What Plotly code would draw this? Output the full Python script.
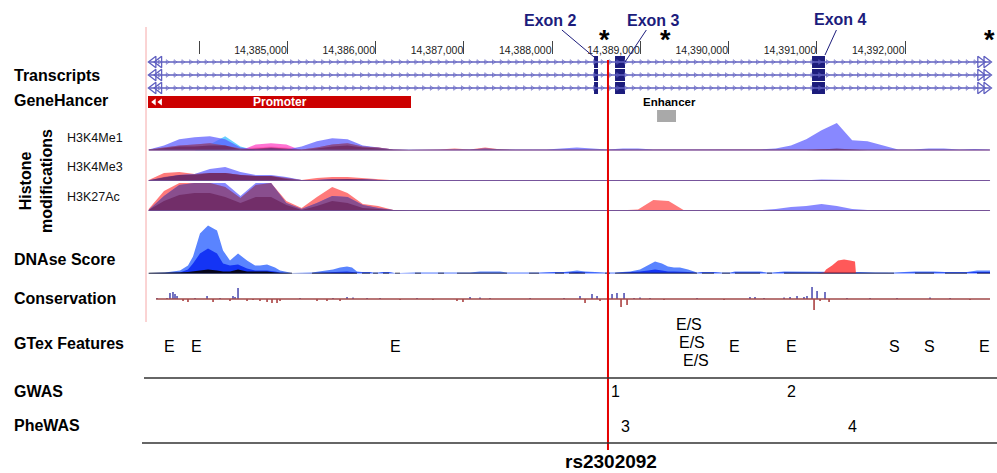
import numpy as np
import plotly.graph_objects as go

W, H = 997, 473
FONT = "Liberation Sans, Arial, sans-serif"

# ---------------- data ----------------
X_RANGE = [14381745, 14393042]
TICK_VALS = [14384000, 14385000, 14386000, 14387000, 14388000,
             14389000, 14390000, 14391000, 14392000]
TICK_TEXT = ["", "14,385,000", "14,386,000", "14,387,000", "14,388,000",
             "14,389,000", "14,390,000", "14,391,000", "14,392,000"]

TX_START, TX_END = 14383433, 14392963
TX_ROWS = [0, 1, 2]
EXON_NAMES = ["Exon 2", "Exon 3", "Exon 4"]
EXON_START = [14388476, 14388714, 14390946]
EXON_END = [14388521, 14388827, 14391093]

GH_NAMES = ["Promoter", "Enhancer"]
GH_START = [14383422, 14389190]
GH_END = [14386402, 14389405]
GH_LANE = [0, 1]
GH_COLOR = ["#cc0000", "#a9a9a9"]

SNP_POS = 14388634
SNP_NAME = "rs2302092"
STAR_POS = [14388600, 14389290, 14392960]

# histone signals, sampled on an even grid across the region
HIST_POS = np.linspace(14383430, 14392960, 56)
ME1_BLUE = [1, 5, 11, 13, 14, 11, 3, 1, 2, 1,
            4, 9, 12, 11, 5, 3, 1, 0.8, 0.8, 1,
            1, 1, 2, 1, 1, 1, 1, 2, 3, 2,
            1, 2, 2, 1, 1, 1, 0.8, 1, 0.8, 0.8,
            1, 2, 5, 11, 20, 27, 10, 9, 5, 1,
            1, 2, 2, 1, 1.5, 1]
ME1_RED = [1, 3, 5, 6, 7, 5, 2, 3, 4, 3,
           1, 3, 6, 7, 4, 3, 1, 0.5, 0.5, 1,
           2, 1, 3, 1, 0.7, 0.7, 0.7, 0.7, 0.7, 0.7,
           0.7, 0.7, 0.7, 0.7, 0.7, 0.7, 0.7, 0.7, 0.7, 0.7,
           0.7, 0.7, 0.7, 1, 1.5, 1, 0.7, 0.7, 0.7, 0.7,
           0.7, 0.7, 0.7, 0.7, 0.7, 0.7]
ME1_CYAN = [0, 0, 0, 0, 6, 14, 4, 0, 0, 0] + [0] * 46
ME1_MAGENTA = [0, 0, 0, 0, 0, 0, 0, 6, 7, 6] + [0] * 46
ME1_DARK = [0.5, 2, 4, 4, 5, 5, 1, 2, 3, 2,
            0.5, 2, 4, 5, 3, 2, 0.5, 0, 0, 0] + [0] * 24 + [1, 2, 1] + [0] * 9

ME3_BLUE = [0.7, 3, 6, 7, 12, 14, 9, 6, 6, 4,
            1, 1, 2, 2, 2, 1] + [0.7] * 28 + [1.5, 1] + [0.7] * 10
ME3_RED = [1, 8, 9, 7, 8, 8, 6, 5, 5, 3,
           1, 3, 4, 4, 3, 2, 0.7] + [0.5] * 16 + [1, 1] + [0.5] * 21
ME3_DARK = [0.5, 4, 6, 6, 8, 8, 6, 5, 5, 2,
            0.5, 1, 2, 2, 1.5, 1] + [0] * 40

AC_RED = [2, 20, 28, 28, 28, 24, 13, 26, 28, 10,
          3, 14, 24, 18, 7, 5, 1, 0.7, 0.7, 0.7,
          1, 1, 0.7, 0.7, 0.7, 0.7, 0.7, 0.7, 0.7, 0.7,
          0.7, 0.7, 1.5, 11, 10, 0.7] + [0.7] * 20
AC_BLUE = [1, 15, 26, 28, 28, 28, 15, 28, 28, 8,
           2, 8, 15, 14, 6, 3, 1] + [0.8] * 24 + [2, 4, 5, 7, 5, 2, 1] + [0.8] * 8
AC_DARK = [1, 10, 16, 18, 18, 14, 8, 14, 14, 6,
           1, 5, 10, 8, 3, 2, 0.5] + [0] * 39

# DNAse score (None = no data)
DNASE_POS = [14383430, 14383615, 14383785, 14383875, 14383932, 14384011, 14384102,
             14384204, 14384272, 14384351, 14384442, 14384544, 14384635, 14384691,
             14384771, 14384861, 14384918, 14385054, 14385150,
             14385280, 14385371, 14385518, 14385598, 14385677, 14385734, 14385790, 14385810,
             14385847, 14385938, 14385955, 14385972, 14386028, 14386055,
             14386085, 14386153, 14386190, 14386221, 14386278, 14386360,
             14386447, 14386515, 14386600, 14386708, 14386776, 14386850,
             14386923, 14387071, 14387184, 14387297, 14387411, 14387490, 14387600,
             14387739, 14387853, 14387950, 14388034, 14388136, 14388165,
             14388192, 14388283, 14388374, 14388480, 14388600, 14388657, 14388685,
             14388714, 14388884, 14388997, 14389088, 14389167, 14389246, 14389314,
             14389382, 14389450, 14389541, 14389609, 14389643, 14389670,
             14389699, 14389835, 14389880, 14389926, 14390017, 14390045,
             14390073, 14390357, 14390400, 14390436, 14390493, 14390560,
             14390629, 14390810, 14390980, 14391150, 14391320, 14391490, 14391660,
             14391875, 14392000, 14392113, 14392328, 14392390,
             14392453, 14392702, 14392760, 14392816, 14392963]
DNASE_LIGHT = [0.5, 1, 3, 8, 17, 40, 48, 43, 23, 13, 20, 13, 8, 8, 9, 6, 3, 0.5, None,
               1, 2, 4, 6, 7, 6, 2, None,
               1.5, 1.5, None, 1, 1, None,
               1.5, 1.5, None, 0.5, 0.5, None,
               1, 1, None, 1, 1, None,
               1, 1, 2, 2, 2, 1, None,
               1, 1, None, 1.5, 1.5, None,
               2, 3, 2, None, 1, 1, None,
               1, 2, 4, 8, 12, 10, 7, 6, 6, 4, 2, 1, None,
               1.5, 1.5, None, 1, 1, None,
               2, 2, None, 1, 1, None,
               2, 2, 2, 2, 2, 1.5, 1, 1, None, 2, 2, None,
               1.5, 1.5, None, 3, 3]
DNASE_MID = [0, 0.5, 1, 4, 10, 20, 25, 20, 10, 8, 9, 5, 3, 3, 3, 2, 1, 0, None,
             0.5, 1, 1.5, 2, 2, 1.5, 1, None,
             1, 1, None, 0.5, 0.5, None,
             1, 1, None, 0.3, 0.3, None,
             0.5, 0.5, None, 0.5, 0.5, None,
             0.5, 0.5, 1, 1, 1, 0.5, None,
             0.5, 0.5, None, 1, 1, None,
             1, 1.5, 1, None, 0.5, 0.5, None,
             0.5, 1, 2, 3, 4, 3, 2, 2, 2, 1.5, 1, 0.5, None,
             1, 1, None, 0.5, 0.5, None,
             1, 1, None, 0.5, 0.5, None,
             1, 1, 1, 1, 1, 1, 0.5, 0.5, None, 1, 1, None,
             1, 1, None, 1.5, 1.5]
DNASE_BLACK = [0.5, 0.5, 1, 1.5, 2, 3, 4, 3, 2, 2, 4, 2, 2, 2, 2, 1, 0.5, 0.3, None,
               0.3, 0.5, 0.5, 0.5, 0.5, 0.5, 0.3, None]
DNASE_RED_POS = [14391000, 14391082, 14391105, 14391173, 14391241, 14391309,
                 14391377, 14391433, 14391444]
DNASE_RED = [0, 1, 4, 8, 13, 14, 13, 12, 0]

# conservation (phyloP-like)
CONS_POS = [14383524, 14383637, 14383671, 14383705, 14383728, 14383751, 14383819,
            14383875, 14383955, 14384091, 14384159, 14384238, 14384351, 14384385,
            14384408, 14384442, 14384544, 14384612, 14384691, 14384771, 14384827,
            14384884, 14384918, 14385144, 14385337, 14385450, 14385518, 14385598,
            14385677, 14385745, 14385904, 14386051, 14386278, 14386470, 14386651,
            14386923, 14386991, 14387071, 14387184, 14387297, 14387751, 14388136,
            14388317, 14388374, 14388453, 14388510, 14388544, 14388680, 14388736,
            14388782, 14388816, 14388850, 14388929, 14388997, 14389110, 14389269,
            14389643, 14389949, 14390243, 14390300, 14390402, 14390629, 14390697,
            14390776, 14390855, 14390889, 14390946, 14390969, 14391003, 14391037,
            14391093, 14391139, 14391342, 14391603, 14391909, 14392283, 14392510,
            14392736]
CONS_VAL = [1, 1, 6, 7, 5, 3, -2,
            -3, 1, 3, -3, 1, -2, 3,
            2, 11, -2, -1, -2, -3, -4,
            -4, -2, 1, -2, -2, 1, -2,
            2, 1.5, 1, 1, -1, 1, -1,
            -2, -3, 2, 1.5, 1, 1, 1,
            3, -4, 5, 3, -2, 5, 6,
            -8, 6, -6, 1, 1.5, 1, -1,
            1, -1, 2, 2, 1, 1.5, 2,
            3, 2, 3, 12, -11, 8, -2,
            7, -3, 1, 1, 1, 1.5, 1,
            -1]

GTEX_LABELS = ["E", "E", "E", "E/S", "E/S", "E/S", "E", "E", "S", "S", "E"]
GTEX_POS = [14383671, 14383966, 14386232, 14389552, 14389586, 14389632,
            14390062, 14390719, 14391875, 14392272, 14392895]
GTEX_LANE = [1, 1, 1, 0, 2, 3, 1, 1, 1, 1, 1]
GWAS_LABELS = ["1", "2"]
GWAS_POS = [14388714, 14390708]
PHEWAS_LABELS = ["3", "4"]
PHEWAS_POS = [14388838, 14391410]

TRACK_LABELS = ["Transcripts", "GeneHancer", "DNAse Score", "Conservation",
                "GTex Features", "GWAS", "PheWAS"]
HIST_LABELS = ["H3K4Me1", "H3K4Me3", "H3K27Ac"]

# ---------------- layout helpers (page pixels -> paper) ----------------
def py(px):
    return 1 - px / H

def pxx(px):
    return px / W

RED_C = "rgba(255,70,70,0.72)"
BLUE_C = "rgba(90,90,255,0.72)"
MIX_C = "rgba(138,74,128,0.85)"
DARK_C = "rgba(95,20,75,0.55)"
CYAN_C = "rgba(80,200,255,0.85)"
MAG_C = "rgba(255,80,200,0.8)"
NAVY = "#1c1c7c"
TX_C = "#6060c0"

fig = go.Figure()

# ---- transcripts ----
chev = np.arange(TX_START + 120, TX_END - 150, 88)
for r in TX_ROWS:
    fig.add_trace(go.Scatter(x=[TX_START, TX_END], y=[r, r], mode="lines",
                             line=dict(color=TX_C, width=1.3), yaxis="y",
                             hoverinfo="skip", showlegend=False))
    fig.add_trace(go.Scatter(x=chev, y=[r] * len(chev), mode="markers",
                             marker=dict(symbol="triangle-right-open", size=4,
                                         color="rgba(96,96,192,0.8)",
                                         line=dict(width=0.8)),
                             yaxis="y", hoverinfo="skip", showlegend=False))
    fig.add_trace(go.Scatter(x=[TX_START + 50, TX_START + 115], y=[r, r], mode="markers",
                             marker=dict(symbol="triangle-left-open", size=10, color=TX_C,
                                         line=dict(width=1.3)),
                             yaxis="y", hoverinfo="skip", showlegend=False))
    fig.add_trace(go.Scatter(x=[TX_END - 110, TX_END - 40], y=[r, r], mode="markers",
                             marker=dict(symbol="triangle-right-open", size=10, color=TX_C,
                                         line=dict(width=1.3)),
                             yaxis="y", hoverinfo="skip", showlegend=False))
    fig.add_trace(go.Bar(y=[r] * len(EXON_START),
                         x=[e - s for s, e in zip(EXON_START, EXON_END)],
                         base=EXON_START, orientation="h", width=0.93,
                         marker=dict(color=NAVY, line=dict(width=0)),
                         yaxis="y", hoverinfo="skip", showlegend=False))

# ---- GeneHancer ----
fig.add_trace(go.Bar(y=GH_LANE, x=[e - s for s, e in zip(GH_START, GH_END)],
                     base=GH_START, orientation="h", width=0.86,
                     marker=dict(color=GH_COLOR, line=dict(width=0)),
                     yaxis="y2", hoverinfo="skip", showlegend=False))
fig.add_trace(go.Scatter(x=[GH_START[0] + 70, GH_START[0] + 140], y=[0, 0], mode="markers",
                         marker=dict(symbol="triangle-left", size=6, color="white"),
                         yaxis="y2", hoverinfo="skip", showlegend=False))

# ---- histone tracks ----
def area(x, y, color, yaxis):
    fig.add_trace(go.Scatter(x=x, y=y, mode="lines", fill="tozeroy",
                             fillcolor=color, line=dict(width=0, color=color),
                             yaxis=yaxis, hoverinfo="skip", showlegend=False))

tracks = [("y3", ME1_RED, ME1_BLUE, ME1_DARK, [(ME1_CYAN, CYAN_C), (ME1_MAGENTA, MAG_C)]),
          ("y4", ME3_RED, ME3_BLUE, ME3_DARK, []),
          ("y5", AC_RED, AC_BLUE, AC_DARK, [])]
for ya, red, blue, dark, extra in tracks:
    area(HIST_POS, red, RED_C, ya)
    for vals, col in extra:
        area(HIST_POS, vals, col, ya)
    area(HIST_POS, blue, BLUE_C, ya)
    area(HIST_POS, np.minimum(red, blue), MIX_C, ya)
    area(HIST_POS, dark, DARK_C, ya)
    fig.add_trace(go.Scatter(x=[TX_START, TX_END], y=[0.3, 0.3], mode="lines",
                             line=dict(color="rgba(110,80,150,0.8)", width=1.4),
                             yaxis=ya, hoverinfo="skip", showlegend=False))

# ---- DNAse ----
area(DNASE_POS, DNASE_LIGHT, "#5a84ff", "y6")
area(DNASE_POS, DNASE_MID, "#1434f5", "y6")
area(DNASE_POS[:len(DNASE_BLACK)], DNASE_BLACK, "#05051a", "y6")
area(DNASE_RED_POS, DNASE_RED, "rgba(255,60,60,0.85)", "y6")
fig.add_trace(go.Scatter(x=DNASE_POS,
                         y=[0 if v is not None else None for v in DNASE_LIGHT],
                         mode="lines", line=dict(color="#101020", width=1.6),
                         yaxis="y6", hoverinfo="skip", showlegend=False))

# ---- conservation ----
fig.add_trace(go.Scatter(x=[TX_START + 80, TX_END], y=[0, 0], mode="lines",
                         line=dict(color="#a04848", width=1.3), yaxis="y7",
                         hoverinfo="skip", showlegend=False))
fig.add_trace(go.Bar(x=CONS_POS, y=CONS_VAL, width=16,
                     marker=dict(color=["#3a3aa8" if v > 0 else "#a02828" for v in CONS_VAL],
                                 line=dict(width=0)),
                     yaxis="y7", hoverinfo="skip", showlegend=False))

# ---------------- annotations ----------------
ann = []
def text(t, x, y, size, color="black", xref="paper", xanchor="center", **kw):
    ann.append(dict(text=t, x=x, y=y, xref=xref, yref="paper", xanchor=xanchor,
                    yanchor="middle", showarrow=False,
                    font=dict(size=size, color=color, family=FONT), **kw))

label_y = [75, 101, 259, 298, 343, 391, 425]
for t, yy in zip(TRACK_LABELS, label_y):
    text(f"<b>{t}</b>", pxx(12), py(yy), 16, xanchor="left")
text("<b>Histone<br>modifications</b>", pxx(36), py(181), 16, textangle=-90)
for t, yy in zip(HIST_LABELS, [138, 167, 197]):
    text(t, pxx(65), py(yy), 12.5, color="#111", xanchor="left")

# exon labels with leader lines
exon_targets = [(EXON_START[0], 57, -44, -37), (EXON_END[1], 62, 28, -42),
                (EXON_END[2], 55, 16, -35)]
for name, (xx, yy, ax, ay) in zip(EXON_NAMES, exon_targets):
    ann.append(dict(text=f"<b>{name}</b>", x=xx, y=py(yy), xref="x", yref="paper",
                    showarrow=True, arrowhead=0, arrowwidth=1, arrowcolor=NAVY,
                    ax=ax, ay=ay, standoff=0, startstandoff=0,
                    font=dict(size=16, color=NAVY, family=FONT)))
for sx in STAR_POS:
    text("<b>*</b>", sx, py(40), 27, xref="x")

# GeneHancer labels
text(f"<b>{GH_NAMES[0]}</b>", (GH_START[0] + GH_END[0]) / 2, py(102), 12,
     color="white", xref="x")
text(f"<b>{GH_NAMES[1]}</b>", (GH_START[1] + GH_END[1]) / 2 + 30, py(102), 11.5,
     xref="x")

lane_px = {0: 324, 1: 346, 2: 342, 3: 360}
for t, xx, ln in zip(GTEX_LABELS, GTEX_POS, GTEX_LANE):
    text(t, xx, py(lane_px[ln]), 16, xref="x")
for t, xx in zip(GWAS_LABELS, GWAS_POS):
    text(t, xx, py(391), 16, xref="x")
for t, xx in zip(PHEWAS_LABELS, PHEWAS_POS):
    text(t, xx, py(426), 16, xref="x")
text(f"<b>{SNP_NAME}</b>", SNP_POS + 30, py(461), 19, xref="x")

# ---------------- shapes ----------------
shapes = [
    dict(type="line", xref="paper", yref="paper", x0=pxx(146), x1=pxx(146),
         y0=py(27), y1=py(322), line=dict(color="#f6a8a8", width=1)),
    dict(type="line", xref="x", yref="paper", x0=SNP_POS, x1=SNP_POS,
         y0=py(60), y1=py(450), line=dict(color="#e60000", width=2)),
    dict(type="line", xref="paper", yref="paper", x0=pxx(144), x1=1,
         y0=py(378), y1=py(378), line=dict(color="#333", width=1.3)),
    dict(type="line", xref="paper", yref="paper", x0=pxx(142), x1=1,
         y0=py(443), y1=py(443), line=dict(color="#333", width=1.3)),
]

def yax(top, bottom, rng):
    return dict(domain=[py(bottom), py(top)], range=rng, visible=False,
                fixedrange=True, anchor="x")

fig.update_layout(
    width=W, height=H, margin=dict(l=0, r=0, t=0, b=0, pad=0),
    paper_bgcolor="white", plot_bgcolor="white",
    barmode="overlay", showlegend=False, hovermode=False,
    font=dict(family=FONT),
    xaxis=dict(range=X_RANGE, side="top", anchor="free", position=py(40),
               tickmode="array", tickvals=TICK_VALS, ticktext=TICK_TEXT,
               ticks="inside", ticklen=13, tickwidth=1, tickcolor="#444",
               ticklabelposition="inside left", showline=False, showgrid=False,
               zeroline=False, fixedrange=True,
               tickfont=dict(size=10.5, color="#222", family=FONT)),
    yaxis=yax(55.5, 94.5, [2.5, -0.5]),
    yaxis2=yax(95, 123, [1.5, -0.5]),
    yaxis3=yax(122, 150.5, [0, 28]),
    yaxis4=yax(153, 181, [0, 28]),
    yaxis5=yax(183, 211, [0, 28]),
    yaxis6=yax(223.5, 273.5, [0, 50]),
    yaxis7=yax(285, 313, [-14, 14]),
    annotations=ann, shapes=shapes,
)

# remove the browser's default page margin so the figure fills the window exactly
fig.write_html("out.html",
               config={"displayModeBar": False, "staticPlot": True},
               post_script="document.body.style.margin='0';"
                           "document.body.style.overflow='hidden';")
